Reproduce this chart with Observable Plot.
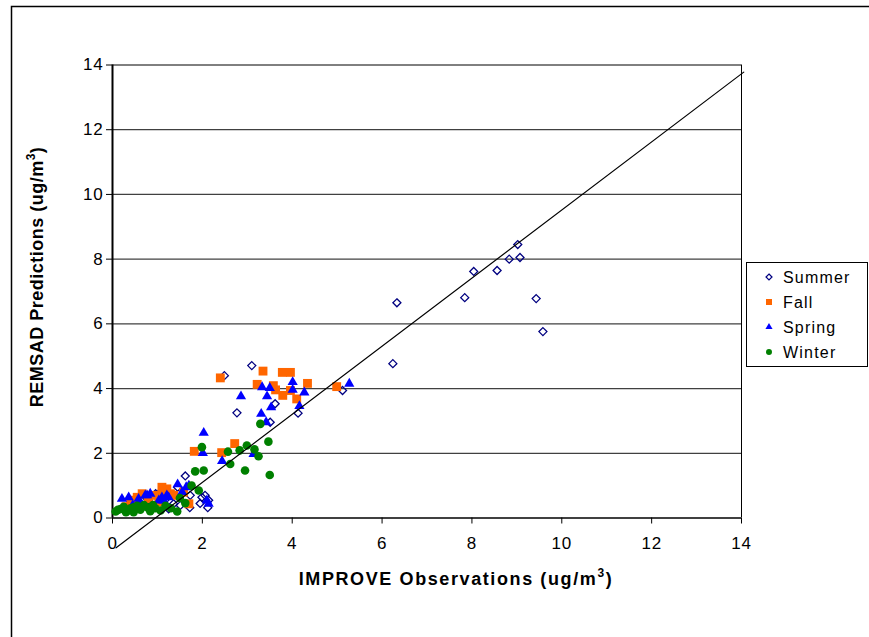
<!DOCTYPE html>
<html><head><meta charset="utf-8">
<script src="https://cdn.jsdelivr.net/npm/d3@7"></script>
<script src="https://cdn.jsdelivr.net/npm/@observablehq/plot@0.6"></script>
<style>
html,body{margin:0;padding:0;background:#fff;}
#chart{position:relative;width:869px;height:637px;overflow:hidden;}
</style></head><body><div id="chart"></div>
<script>
// ---- data ----
const summer = [
  [6.33,6.65],[6.24,4.77],[7.84,6.81],[8.04,7.62],[8.56,7.65],[8.83,8.00],[9.02,8.45],[9.07,8.05],[9.43,6.78],[9.58,5.76],
  [5.12,3.94],[3.10,4.71],[2.49,4.40],[2.77,3.25],[3.62,3.53],[3.51,2.96],[4.13,3.24],
  [1.62,1.30],[1.73,0.70],[1.72,0.32],[1.99,0.64],[2.06,0.70],[2.14,0.55],[2.12,0.32],[1.95,0.45],
  [1.36,0.44],[1.51,0.39],[1.25,0.28],[0.96,0.75],[1.10,0.85],[0.80,0.55],[0.60,0.45],[0.45,0.35],
  [0.30,0.30],[1.45,0.95],[1.20,0.60],[0.70,0.70]
];
const fall = [
  [2.40,4.33],[3.35,4.54],[3.78,4.50],[3.96,4.50],[3.22,4.13],[3.58,4.09],[3.63,3.96],[3.79,3.79],
  [3.96,3.94],[4.10,3.68],[4.34,4.16],[4.99,4.06],
  [2.72,2.30],[1.82,2.06],[2.43,2.02],[1.70,0.44],
  [1.10,0.95],[1.21,0.90],[1.29,0.75],[1.36,0.70],[1.58,0.80],[0.96,0.70],[1.03,0.49],[0.55,0.64],
  [0.66,0.75],[0.51,0.55],[0.40,0.45],[0.80,0.60],[1.15,0.80],[0.30,0.35]
];
const spring = [
  [2.86,3.76],[3.33,4.04],[3.50,4.02],[3.44,3.76],[4.01,4.20],[4.01,3.96],[4.27,3.88],[4.16,3.46],
  [3.53,3.42],[3.31,3.22],[3.42,2.96],[5.27,4.15],
  [2.03,2.63],[2.01,2.01],[2.44,1.76],[3.14,1.98],
  [1.45,1.04],[1.64,0.95],[2.10,0.54],[2.14,0.44],[1.18,0.33],[1.10,0.64],[1.25,0.64],[0.77,0.70],
  [0.84,0.75],[0.21,0.59],[0.36,0.64],[0.58,0.59],[0.73,0.70],[1.03,0.54],[1.14,0.54],[1.21,0.70],
  [0.45,0.40],[0.60,0.50],[1.70,1.00],[1.55,0.80]
];
const winter = [
  [3.29,2.91],[1.99,2.19],[2.57,2.05],[2.83,2.09],[2.99,2.24],[3.16,2.12],[3.47,2.36],[3.25,1.91],
  [2.62,1.67],[1.84,1.44],[2.03,1.47],[2.95,1.47],[3.50,1.33],[1.76,1.00],[1.92,0.85],
  [1.44,0.20],[1.07,0.23],[0.07,0.20],[0.18,0.28],[0.33,0.22],[0.47,0.33],[0.62,0.26],[0.77,0.33],
  [0.84,0.21],[0.47,0.18],[0.25,0.35],[0.40,0.30],[0.55,0.38],[0.70,0.40],[0.95,0.30],[1.30,0.30],
  [1.18,0.38],[1.62,0.46],[0.12,0.25],[0.30,0.18],[0.90,0.40],[1.50,0.62]
];
const fitX = [0.08, 14.05];
const fitY = [-0.92, 13.78];
const xTicks = [0,2,4,6,8,10,12,14];
const yTicks = [0,2,4,6,8,10,12,14];
const gridY = [2,4,6,8,10,12];
const seasons = ["Summer","Fall","Spring","Winter"];
const colors = ["#000080","#FF6600","#0000FF","#008000"];
const xTitle = "IMPROVE Observations (ug/m";
const yTitle = "REMSAD Predictions (ug/m";

const rows = pts => pts.map(([x,y]) => ({x,y}));
const fitRows = fitX.map((x,i) => ({x, y: fitY[i]}));

const plot = Plot.plot({
  width: 869, height: 637,
  marginLeft: 112, marginRight: 128, marginTop: 64.5, marginBottom: 119.5,
  x: {domain: [0,14], axis: null},
  y: {domain: [0,14], axis: null},
  style: {fontFamily: "'Liberation Sans', Arial, sans-serif", fontSize: "17px", color: "#000", background: "transparent", overflow: "visible"},
  marks: [
    Plot.ruleY(gridY, {stroke: "#404040", strokeWidth: 1.2}),
    Plot.ruleY([14], {stroke: "#000", strokeWidth: 1}),
    Plot.ruleX([14], {stroke: "#000", strokeWidth: 1}),
    Plot.axisX({ticks: xTicks, tickSize: 6, tickPadding: 13, label: null, stroke: "#000", fill: "#000", fontSize: 17}),
    Plot.axisY({ticks: yTicks, tickSize: 6, tickPadding: 3, label: null, stroke: "#000", fill: "#000", fontSize: 17}),
    Plot.ruleX([0], {stroke: "#000", strokeWidth: 2}),
    Plot.ruleY([0], {stroke: "#000", strokeWidth: 1.5}),
    Plot.dot(rows(summer), {x: "x", y: "y", symbol: "diamond2", r: 3.6, stroke: colors[0], strokeWidth: 1.3, fill: "none"}),
    Plot.dot(rows(fall), {x: "x", y: "y", symbol: "square", r: 5, fill: colors[1], stroke: null}),
    Plot.dot(rows(spring), {x: "x", y: "y", symbol: "triangle", r: 3.8, fill: colors[2], stroke: null}),
    Plot.dot(rows(winter), {x: "x", y: "y", symbol: "circle", r: 4.3, fill: colors[3], stroke: null}),
    Plot.line(fitRows, {x: "x", y: "y", stroke: "#000", strokeWidth: 1.2, clip: false})
  ]
});
document.getElementById("chart").appendChild(plot);

const svg = d3.select(plot);
svg.selectAll("g[aria-label='x-axis tick label'] text, g[aria-label='y-axis tick label'] text").attr("letter-spacing", "0.8px");
// outer frame
svg.append("path").attr("d", "M11.5,640V6.5H872").attr("fill", "none").attr("stroke", "#000").attr("stroke-width", 1.5);

// axis titles with superscript
const xt = svg.append("text").attr("x", 456).attr("y", 585).attr("text-anchor", "middle")
  .attr("font-weight", "bold").attr("font-size", 18).attr("letter-spacing", "1.6px").attr("fill", "#000");
xt.append("tspan").text(xTitle);
xt.append("tspan").attr("dy", -8).attr("font-size", 12).text("3");
xt.append("tspan").attr("dy", 8).text(")");

const yt = svg.append("text").attr("transform", "translate(43,277) rotate(-90)").attr("text-anchor", "middle")
  .attr("font-weight", "bold").attr("font-size", 18).attr("letter-spacing", "0.5px").attr("fill", "#000");
yt.append("tspan").text(yTitle);
yt.append("tspan").attr("dy", -8).attr("font-size", 12).text("3");
yt.append("tspan").attr("dy", 8).text(")");

// legend
const lg = svg.append("g").attr("transform", "translate(746.5,262.5)").attr("text-anchor", "start");
lg.append("rect").attr("width", 121).attr("height", 104).attr("fill", "#fff").attr("stroke", "#000").attr("stroke-width", 1);
const syms = [d3.symbolDiamond2, d3.symbolSquare, d3.symbolTriangle, d3.symbolCircle];
const sizes = [23, 36, 22, 28];
seasons.forEach((s, i) => {
  const cy = 14.5 + i * 25;
  const p = lg.append("path").attr("transform", `translate(22.5,${cy})`).attr("d", d3.symbol(syms[i], sizes[i])());
  if (i === 0) p.attr("fill", "none").attr("stroke", colors[0]).attr("stroke-width", 1.2);
  else p.attr("fill", colors[i]);
  lg.append("text").attr("x", 36.5).attr("y", cy + 6).attr("text-anchor", "start").attr("font-size", 16)
    .attr("letter-spacing", "1.2px").attr("fill", "#000").text(s);
});
</script></body></html>
